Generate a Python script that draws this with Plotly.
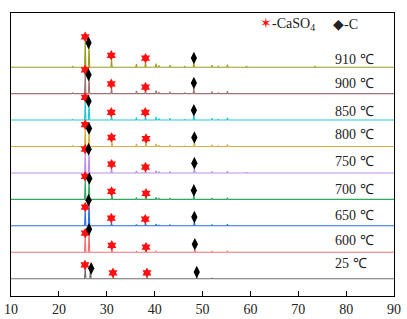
import plotly.graph_objects as go

# ---------------- data ----------------
temps = ["25 ℃", "600 ℃", "650 ℃", "700 ℃", "750 ℃", "800 ℃", "850 ℃", "900 ℃", "910 ℃"]
colors = ["#707070", "#f07070", "#2a70e6", "#30a862", "#b890e8", "#d4b040", "#22c8d2", "#a07474", "#9c9c22"]

# main peak positions (2θ) per pattern
p_caso4_main = [25.5, 25.5, 25.5, 25.5, 25.5, 25.5, 25.5, 25.5, 25.5]
p_c_main     = [26.6, 26.3, 26.3, 26.3, 26.3, 26.3, 26.3, 26.3, 26.3]
p_caso4_31   = [31.4, 31.1, 31.0, 31.1, 31.0, 31.1, 31.0, 31.0, 31.0]
p_caso4_38   = [38.4, 38.2, 38.1, 38.2, 38.1, 38.2, 38.1, 38.1, 38.1]
p_c_48       = [48.8, 48.4, 48.3, 48.2, 48.3, 48.3, 48.2, 48.2, 48.2]

# peak intensities (normalised) per pattern
h_caso4_main = [0.45, 0.64, 0.62, 0.77, 0.80, 0.72, 0.76, 0.80, 1.05]
h_c_main     = [0.45, 0.89, 0.99, 0.82, 0.92, 0.71, 0.74, 0.74, 0.95]
h_caso4_31   = [0.04, 0.10, 0.13, 0.15, 0.18, 0.18, 0.14, 0.22, 0.30]
h_caso4_38   = [0.03, 0.05, 0.11, 0.10, 0.09, 0.16, 0.14, 0.12, 0.20]
h_c_48       = [0.06, 0.10, 0.15, 0.17, 0.20, 0.17, 0.20, 0.22, 0.19]

# minor reflections
minor_pos = [22.9, 36.2, 40.3, 40.9, 43.2, 46.3, 52.0, 53.3, 55.2, 59.2, 73.5]
minor_h = [
    [0.01, 0.01, 0.02, 0.01, 0.01, 0.00, 0.02, 0.00, 0.01, 0.00, 0.00],  # 25
    [0.01, 0.03, 0.04, 0.02, 0.02, 0.01, 0.03, 0.01, 0.04, 0.01, 0.01],  # 600
    [0.02, 0.05, 0.07, 0.03, 0.04, 0.01, 0.05, 0.02, 0.06, 0.01, 0.01],  # 650
    [0.02, 0.07, 0.08, 0.04, 0.05, 0.02, 0.05, 0.02, 0.06, 0.01, 0.01],  # 700
    [0.02, 0.08, 0.09, 0.05, 0.05, 0.02, 0.06, 0.02, 0.07, 0.02, 0.02],  # 750
    [0.03, 0.09, 0.10, 0.05, 0.06, 0.02, 0.07, 0.03, 0.08, 0.02, 0.02],  # 800
    [0.03, 0.10, 0.12, 0.06, 0.07, 0.02, 0.07, 0.03, 0.09, 0.02, 0.02],  # 850
    [0.03, 0.10, 0.12, 0.06, 0.07, 0.03, 0.08, 0.03, 0.09, 0.02, 0.02],  # 900
    [0.03, 0.12, 0.14, 0.07, 0.08, 0.03, 0.08, 0.04, 0.10, 0.03, 0.03],  # 910
]

# phase marker positions (x) and heights above each pattern's baseline
m_star_x = [[25.45, 31.3, 38.4], [25.5, 31.05, 38.2], [25.5, 30.95, 38.05], [25.5, 31.0, 38.2],
            [25.5, 31.0, 38.1], [25.5, 31.0, 38.2], [25.5, 30.95, 38.05], [25.5, 30.95, 38.1],
            [25.5, 30.95, 38.1]]
m_star_h = [[0.52, 0.22, 0.22], [0.72, 0.26, 0.19], [0.71, 0.29, 0.25], [0.87, 0.30, 0.23],
            [0.90, 0.33, 0.22], [0.83, 0.34, 0.30], [0.86, 0.29, 0.29], [0.90, 0.37, 0.25],
            [1.15, 0.45, 0.34]]
m_dia_x = [[26.75, 48.8], [26.3, 48.4], [26.2, 48.3], [26.35, 48.2], [26.2, 48.3],
           [26.3, 48.3], [26.2, 48.2], [26.2, 48.2], [26.2, 48.2]]
m_dia_h = [[0.39, 0.25], [0.87, 0.30], [0.97, 0.33], [0.79, 0.34], [0.90, 0.37],
           [0.68, 0.34], [0.71, 0.37], [0.71, 0.40], [0.92, 0.35]]

# ---------------- layout constants ----------------
X_RANGE = [10, 90]
Y_RANGE = [-0.655, 10.05]
HALF_W = 0.14
LABEL_X = 77.3
LABEL_DY = [0.56, 0.43, 0.38, 0.37, 0.42, 0.45, 0.33, 0.37, 0.31]
SERIF = "Liberation Serif, Times New Roman, serif"

fig = go.Figure()

for i, name in enumerate(temps):
    base = i
    peaks = [(p_caso4_main[i], h_caso4_main[i]), (p_c_main[i], h_c_main[i]),
             (p_caso4_31[i], h_caso4_31[i]), (p_caso4_38[i], h_caso4_38[i]),
             (p_c_48[i], h_c_48[i])]
    peaks += list(zip(minor_pos, minor_h[i]))
    peaks.sort()
    xs, ys = [X_RANGE[0]], [base]
    for p, h in peaks:
        xs += [p - HALF_W, p, p + HALF_W]
        ys += [base, base + h, base]
    xs.append(X_RANGE[1]); ys.append(base)
    fig.add_trace(go.Scatter(x=xs, y=ys, mode="lines",
                             line=dict(color=colors[i], width=1.1),
                             showlegend=False, hoverinfo="skip"))

for i in range(len(temps)):
    fig.add_trace(go.Scatter(x=m_star_x[i], y=[i + h for h in m_star_h[i]], mode="markers",
                             marker=dict(symbol="hexagram", size=8, color="#ff1010", line=dict(width=0)),
                             showlegend=False, hoverinfo="skip"))
    fig.add_trace(go.Scatter(x=m_dia_x[i], y=[i + h for h in m_dia_h[i]], mode="markers",
                             marker=dict(symbol="diamond-tall", size=9, color="#000000", line=dict(width=0)),
                             showlegend=False, hoverinfo="skip"))
    fig.add_annotation(x=LABEL_X, y=i + LABEL_DY[i], text=temps[i], showarrow=False,
                       xanchor="left", yanchor="middle",
                       font=dict(family=SERIF, size=14, color="#222222"))

# legend (phase key)
fig.add_annotation(xref="paper", yref="paper", x=(258 - 11) / 383, y=(296 - 25) / 283,
                   xanchor="left", yanchor="middle", showarrow=False,
                   text="<span style='color:#ff1010'>✶</span>-CaSO<sub>4</sub>",
                   font=dict(family=SERIF, size=14, color="#222222"))
fig.add_annotation(xref="paper", yref="paper", x=(331 - 11) / 383, y=(296 - 25) / 283,
                   xanchor="left", yanchor="middle", showarrow=False,
                   text="◆-C",
                   font=dict(family=SERIF, size=14, color="#222222"))

fig.update_layout(
    width=407, height=319,
    margin=dict(l=11, r=13, t=13, b=23, autoexpand=False),
    paper_bgcolor="white", plot_bgcolor="white",
    hovermode=False,
    xaxis=dict(range=X_RANGE, dtick=10, tick0=10, ticks="inside", ticklen=5,
               tickcolor="#000", tickwidth=1, showline=True, linecolor="#000",
               linewidth=1.2, mirror=True, showgrid=False, zeroline=False,
               tickfont=dict(family=SERIF, size=14, color="#222222")),
    yaxis=dict(range=Y_RANGE, showticklabels=False, ticks="", showline=True,
               linecolor="#000", linewidth=1.2, mirror=True, showgrid=False,
               zeroline=False),
)

# remove the browser's default 8 px body margin so the figure fills the window
fig.write_html("out.html", config={"displayModeBar": False},
               post_script="document.body.style.margin='0';document.body.style.overflow='hidden';")
